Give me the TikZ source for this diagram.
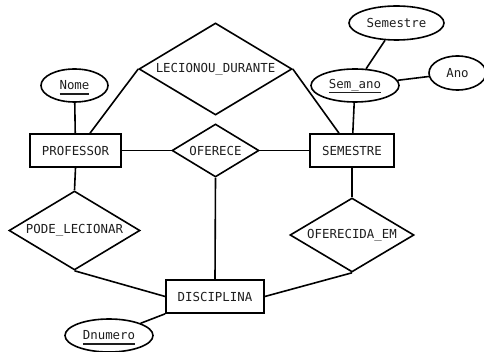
\documentclass[tikz,border=0pt]{standalone}
\usepackage{fontspec}
\setmonofont{DejaVu Sans Mono}
\usetikzlibrary{shapes.geometric}
\newcommand\keyul[1]{\setbox0\hbox{#1}\rlap{\smash{\rule[-4.6pt]{\wd0}{1.4pt}}}\box0}
\definecolor{txt}{HTML}{1E1E1E}
\tikzset{
  every node/.style={font=\ttfamily\fontsize{12.4}{14}\selectfont, text=txt},
  ent/.style={draw, line width=1.6pt, rectangle, inner sep=0pt},
  rel/.style={draw, line width=1.6pt, diamond, aspect=1.65, inner sep=0pt},
  att/.style={draw, line width=1.6pt, ellipse, inner sep=0pt},
  conn/.style={line width=1.6pt},
}
\begin{document}
\begin{tikzpicture}[x=1pt,y=-1pt]
\useasboundingbox (0,0) rectangle (484,352);
% entities
\node[ent, minimum width=91pt, minimum height=33pt] (prof) at (75.5,150.5) {PROFESSOR};
\node[ent, minimum width=84pt, minimum height=33pt] (sem) at (352,150.5) {SEMESTRE};
\node[ent, minimum width=98pt, minimum height=33pt] (disc) at (215,296.5) {DISCIPLINA};
% relationships
\node[rel, minimum width=153pt, minimum height=92pt] (lec) at (215.5,69) {LECIONOU\_DURANTE};
\node[rel, minimum width=87pt, minimum height=53pt] (ofe) at (215.5,150.5) {OFERECE};
\node[rel, minimum width=131pt, minimum height=79pt] (pode) at (74.5,230.5) {PODE\_LECIONAR};
\node[rel, minimum width=124pt, minimum height=74pt] (ofem) at (352,235) {OFERECIDA\_EM};
% attributes
\node[att, minimum width=67pt, minimum height=33pt] (nome) at (74.5,85.5) {\keyul{Nome}};
\node[att, minimum width=88pt, minimum height=33pt] (semano) at (355,85.5) {\keyul{Sem\_ano}};
\node[att, minimum width=95pt, minimum height=34pt] (semestre) at (396.5,23) {Semestre};
\node[att, minimum width=57pt, minimum height=34pt] (ano) at (457.5,73) {Ano};
\node[att, minimum width=88pt, minimum height=33pt] (dnum) at (109,335.5) {\keyul{Dnumero}};
% connectors
\draw[conn] (nome) -- (prof);
\draw[conn] (lec.west) -- ([xshift=14.5pt]prof.north);
\draw[conn] (lec.east) -- ([xshift=-13pt]sem.north);
\draw[conn] (prof.east) -- (ofe.west);
\draw[conn] (ofe.east) -- (sem.west);
\draw[conn] (ofe.south) -- (disc.north);
\draw[conn] (prof.south) -- (pode.north);
\draw[conn] (pode.south) -- (disc.west);
\draw[conn] (sem.south) -- (ofem.north);
\draw[conn] (ofem.south) -- (disc.east);
\draw[conn] (semano) -- (sem);
\draw[conn] (semano) -- (semestre);
\draw[conn] (semano) -- (ano);
\draw[conn] (dnum) -- (disc.south west);
\end{tikzpicture}
\end{document}
